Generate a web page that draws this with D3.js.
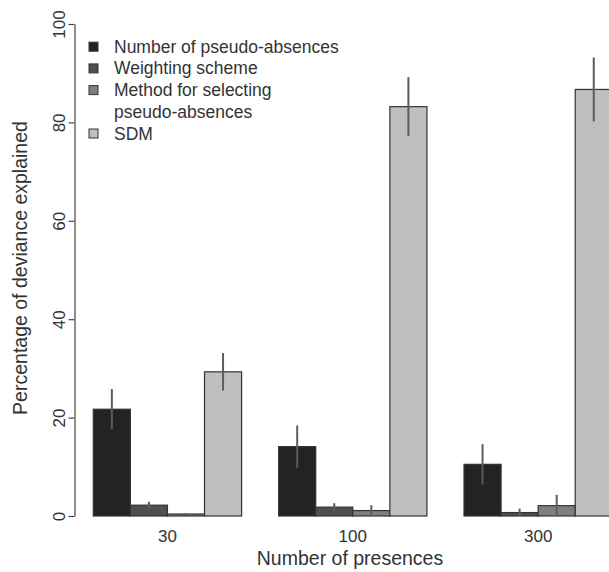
<!DOCTYPE html>
<html>
<head>
<meta charset="utf-8">
<script src="https://cdn.jsdelivr.net/npm/d3@7"></script>
<style>
  html, body { margin: 0; padding: 0; background: #fff; }
  svg { display: block; font-family: "Liberation Sans", Arial, sans-serif; }
</style>
</head>
<body>
<svg id="chart" width="609" height="572"></svg>
<script>
// ---- data ----
const categories = ["30", "100", "300"];
const seriesNames = ["Number of pseudo-absences", "Weighting scheme", "Method for selecting\npseudo-absences", "SDM"];
const nPseudo      = [21.7, 14.1, 10.5];
const nPseudoErr   = [4.1, 4.3, 4.1];
const weighting    = [2.2, 1.8, 0.7];
const weightingErr = [0.7, 0.8, 0.8];
const method       = [0.4, 1.1, 2.1];
const methodErr    = [0.2, 1.1, 2.2];
const sdm          = [29.3, 83.2, 86.7];
const sdmErr       = [3.8, 6.0, 6.5];
const yTicks = [0, 20, 40, 60, 80, 100];
const xTitle = "Number of presences";
const yTitle = "Percentage of deviance explained";

const seriesValues = [nPseudo, weighting, method, sdm];
const seriesErrors = [nPseudoErr, weightingErr, methodErr, sdmErr];
const colors = ["#232323", "#4f4f4f", "#7f7f7f", "#bfbfbf"];

const svg = d3.select("#chart");

const x0 = d3.scaleBand().domain(categories).range([93.3, 612.3]).paddingInner(0.2).paddingOuter(0);
const x1 = d3.scaleBand().domain(d3.range(seriesNames.length)).range([0, x0.bandwidth()]).padding(0);
const y = d3.scaleLinear().domain([0, 100]).range([516, 24]);

const rows = [];
categories.forEach((c, gi) => {
  seriesValues.forEach((vals, si) => {
    rows.push({cat: c, s: si, v: vals[gi], e: seriesErrors[si][gi]});
  });
});

// bars
svg.append("g").selectAll("rect").data(rows).join("rect")
  .attr("x", d => x0(d.cat) + x1(d.s))
  .attr("y", d => y(d.v))
  .attr("width", x1.bandwidth())
  .attr("height", d => y(0) - y(d.v))
  .attr("fill", d => colors[d.s])
  .attr("stroke", "#333")
  .attr("stroke-width", 1.2);

// error bars
svg.append("g").selectAll("line").data(rows).join("line")
  .attr("x1", d => x0(d.cat) + x1(d.s) + x1.bandwidth() / 2)
  .attr("x2", d => x0(d.cat) + x1(d.s) + x1.bandwidth() / 2)
  .attr("y1", d => y(d.v + d.e))
  .attr("y2", d => y(Math.max(0, d.v - d.e)))
  .attr("stroke", "#5c5c5c")
  .attr("stroke-width", 2);

// y axis
const yAxis = svg.append("g").attr("transform", "translate(74.5,0)")
  .call(d3.axisLeft(y).tickValues(yTicks).tickSize(6).tickSizeOuter(0).tickPadding(0));
yAxis.select(".domain").attr("stroke", "#444").attr("stroke-width", 1.2);
yAxis.selectAll(".tick line").attr("stroke", "#444").attr("stroke-width", 1.2);
yAxis.selectAll(".tick text")
  .attr("x", 0).attr("y", 0).attr("dy", 0)
  .attr("text-anchor", "middle")
  .attr("transform", "translate(-9.5,0) rotate(-90)")
  .attr("font-size", 17).attr("fill", "#333")
  .attr("font-family", "Liberation Sans, Arial, sans-serif");

// x axis
const xAxis = svg.append("g").attr("transform", "translate(0,516)")
  .call(d3.axisBottom(x0).tickSize(0).tickPadding(0));
xAxis.select(".domain").remove();
xAxis.selectAll(".tick text")
  .attr("y", 26).attr("dy", 0)
  .attr("font-size", 17).attr("fill", "#333")
  .attr("font-family", "Liberation Sans, Arial, sans-serif");

// titles
svg.append("text").attr("x", 350).attr("y", 565).attr("text-anchor", "middle")
  .attr("font-size", 19.5).attr("fill", "#333").text(xTitle);
svg.append("text").attr("transform", "translate(27,268) rotate(-90)").attr("text-anchor", "middle")
  .attr("font-size", 19.5).attr("fill", "#333").text(yTitle);

// legend
const lineH = 21.7;
let rowY = 46.7;
const leg = svg.append("g");
seriesNames.forEach((name, i) => {
  const lines = name.split("\n");
  leg.append("rect").attr("x", 89).attr("y", rowY - 4.5).attr("width", 9).attr("height", 9)
    .attr("fill", colors[i]).attr("stroke", "#333").attr("stroke-width", 1);
  lines.forEach((ln, j) => {
    leg.append("text").attr("x", 114).attr("y", rowY + j * lineH + 6)
      .attr("font-size", 17.5).attr("fill", "#333").text(ln);
  });
  rowY += lines.length * lineH;
});
</script>
</body>
</html>
